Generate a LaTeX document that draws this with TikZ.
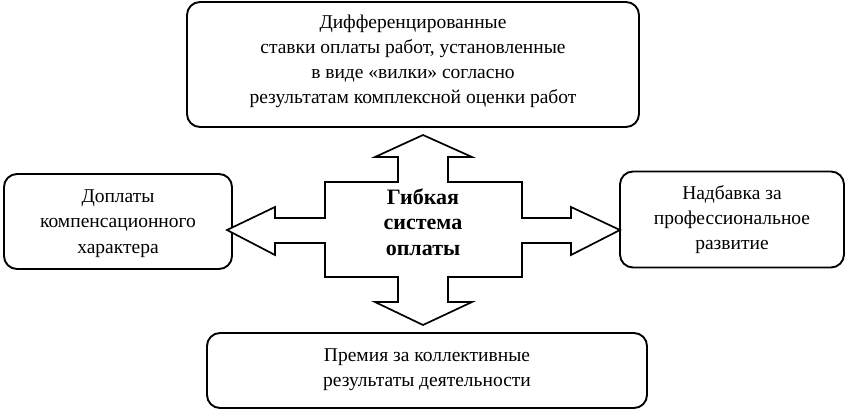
\documentclass[tikz,border=0pt]{standalone}
\usepackage{fontspec}
\setmainfont{Liberation Serif}
\begin{document}
\begin{tikzpicture}[x=1pt,y=-1pt,
  box/.style={draw=black,line width=1.9pt,rounded corners=13pt,inner sep=0pt},
  boxtext/.style={align=center,inner sep=0pt,font=\fontsize{19.5}{25.3}\selectfont},
  cross/.style={draw=black,line width=1.7pt,fill=white,line join=miter}]
\useasboundingbox (0,0) rectangle (847,410);
\node[box,minimum width=452pt,minimum height=125pt] (top) at (413,64.5) {};
\node[box,minimum width=228pt,minimum height=95pt] (left) at (118,221.5) {};
\node[box,minimum width=224pt,minimum height=96pt] (right) at (732,219.5) {};
\node[box,minimum width=440pt,minimum height=75pt] (bottom) at (427,370.5) {};
\node[boxtext] (toptext) at (413,61.3)
  {Дифференцированные\\ставки оплаты работ, установленные\\в виде «вилки» согласно\\результатам комплексной оценки работ};
\node[boxtext] (lefttext) at (118,223.5)
  {Доплаты\\компенсационного\\характера};
\node[boxtext] (righttext) at (732,219.5)
  {Надбавка за\\профессиональное\\развитие};
\node[boxtext] (bottomtext) at (427,370)
  {Премия за коллективные\\результаты деятельности};
\draw[cross] (423,135) -- (472,157) -- (448,157) -- (448,182) -- (522,182) -- (522,218)
  -- (571,218) -- (571,207) -- (620,230) -- (571,255) -- (571,243) -- (522,243)
  -- (522,277) -- (448,277) -- (448,302) -- (472,302) -- (423,325) -- (375,302)
  -- (398,302) -- (398,277) -- (325,277) -- (325,243) -- (275,243) -- (275,255)
  -- (227,230) -- (275,207) -- (275,218) -- (325,218) -- (325,182) -- (398,182)
  -- (398,157) -- (375,157) -- cycle;
\node[align=center,inner sep=0pt,font=\fontsize{22}{25.5}\selectfont\bfseries] (center) at (423,222)
  {Гибкая\\система\\оплаты};
\end{tikzpicture}
\end{document}
